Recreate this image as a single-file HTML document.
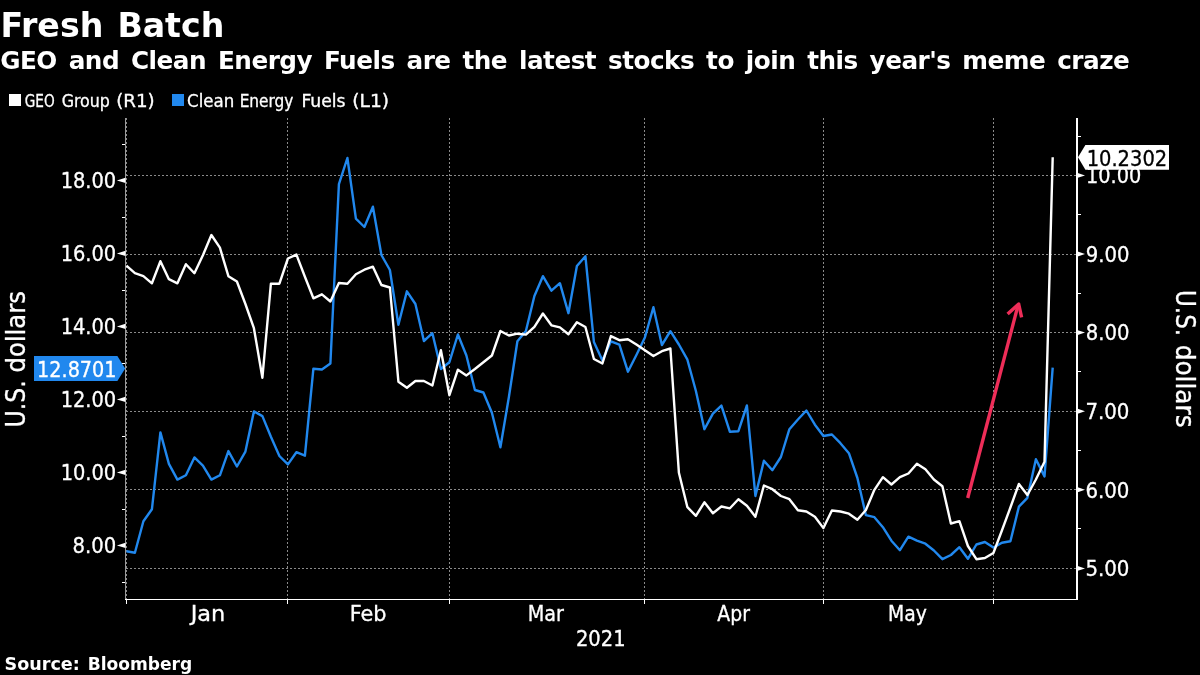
<!DOCTYPE html>
<html lang="en"><head><meta charset="utf-8"><title>Fresh Batch</title>
<style>html,body{margin:0;padding:0;background:#000;}body{width:1200px;height:675px;overflow:hidden;}svg{display:block;}text{font-family:"DejaVu Sans Condensed","DejaVu Sans","Liberation Sans",sans-serif;fill:#fff;stroke:#fff;stroke-width:0.3px;}.b{font-family:"DejaVu Sans","Liberation Sans",sans-serif;font-weight:bold;stroke:none;}.k{stroke:#000;}</style></head><body>
<svg width="1200" height="675" viewBox="0 0 1200 675">
<rect width="1200" height="675" fill="#000"/>
<text class="b" x="0.2" y="68.6" font-size="24.7" style="letter-spacing:-0.5px;word-spacing:3.8px">GEO and Clean Energy Fuels are the latest stocks to join this year&#39;s meme craze</text>
<rect x="9" y="94" width="12" height="12" fill="#fff"/>
<rect x="172" y="94" width="12" height="12" fill="#2188ee"/>
<g stroke="#8a8a8a" stroke-width="1" stroke-dasharray="2 2" fill="none" shape-rendering="crispEdges">
<line x1="126" y1="175.5" x2="1076" y2="175.5"/>
<line x1="126" y1="254.5" x2="1076" y2="254.5"/>
<line x1="126" y1="332.5" x2="1076" y2="332.5"/>
<line x1="126" y1="411.5" x2="1076" y2="411.5"/>
<line x1="126" y1="489.5" x2="1076" y2="489.5"/>
<line x1="126" y1="568.5" x2="1076" y2="568.5"/>
<line x1="126.5" y1="118" x2="126.5" y2="599"/>
<line x1="287.5" y1="118" x2="287.5" y2="599"/>
<line x1="449.5" y1="118" x2="449.5" y2="599"/>
<line x1="644.5" y1="118" x2="644.5" y2="599"/>
<line x1="823.5" y1="118" x2="823.5" y2="599"/>
<line x1="993.5" y1="118" x2="993.5" y2="599"/>
</g>
<g fill="none" shape-rendering="crispEdges">
<line x1="125.5" y1="118" x2="125.5" y2="600" stroke-width="1" stroke="#9a9a9a"/>
<line x1="1077" y1="118" x2="1077" y2="600" stroke-width="2" stroke="#fff"/>
<line x1="125" y1="599.5" x2="1078" y2="599.5" stroke-width="1" stroke="#fff"/>
<line x1="126.5" y1="599" x2="126.5" y2="604" stroke-width="1" stroke="#fff"/>
<line x1="287.5" y1="599" x2="287.5" y2="604" stroke-width="1" stroke="#fff"/>
<line x1="449.5" y1="599" x2="449.5" y2="604" stroke-width="1" stroke="#fff"/>
<line x1="644.5" y1="599" x2="644.5" y2="604" stroke-width="1" stroke="#fff"/>
<line x1="823.5" y1="599" x2="823.5" y2="604" stroke-width="1" stroke="#fff"/>
<line x1="993.5" y1="599" x2="993.5" y2="604" stroke-width="1" stroke="#fff"/>
<line x1="122" y1="144.5" x2="125" y2="144.5" stroke-width="1" stroke="#fff"/>
<line x1="122" y1="217.5" x2="125" y2="217.5" stroke-width="1" stroke="#fff"/>
<line x1="122" y1="290.5" x2="125" y2="290.5" stroke-width="1" stroke="#fff"/>
<line x1="122" y1="363.5" x2="125" y2="363.5" stroke-width="1" stroke="#fff"/>
<line x1="122" y1="436.5" x2="125" y2="436.5" stroke-width="1" stroke="#fff"/>
<line x1="122" y1="509.5" x2="125" y2="509.5" stroke-width="1" stroke="#fff"/>
<line x1="122" y1="582.5" x2="125" y2="582.5" stroke-width="1" stroke="#fff"/>
<line x1="1077" y1="136.5" x2="1081" y2="136.5" stroke-width="1" stroke="#fff"/>
<line x1="1077" y1="214.5" x2="1081" y2="214.5" stroke-width="1" stroke="#fff"/>
<line x1="1077" y1="293.5" x2="1081" y2="293.5" stroke-width="1" stroke="#fff"/>
<line x1="1077" y1="371.5" x2="1081" y2="371.5" stroke-width="1" stroke="#fff"/>
<line x1="1077" y1="450.5" x2="1081" y2="450.5" stroke-width="1" stroke="#fff"/>
<line x1="1077" y1="528.5" x2="1081" y2="528.5" stroke-width="1" stroke="#fff"/>
</g>
<path d="M125.5 180.4 l0 -2.7 l-8.6 2.7 l8.6 2.7z" fill="#fff"/>
<path d="M125.5 253.4 l0 -2.7 l-8.6 2.7 l8.6 2.7z" fill="#fff"/>
<path d="M125.5 326.4 l0 -2.7 l-8.6 2.7 l8.6 2.7z" fill="#fff"/>
<path d="M125.5 399.4 l0 -2.7 l-8.6 2.7 l8.6 2.7z" fill="#fff"/>
<path d="M125.5 472.4 l0 -2.7 l-8.6 2.7 l8.6 2.7z" fill="#fff"/>
<path d="M125.5 545.4 l0 -2.7 l-8.6 2.7 l8.6 2.7z" fill="#fff"/>
<path d="M1077 175.4 l0 -2.7 l8 2.7 l-8 2.7z" fill="#fff"/>
<path d="M1077 254.0 l0 -2.7 l8 2.7 l-8 2.7z" fill="#fff"/>
<path d="M1077 332.6 l0 -2.7 l8 2.7 l-8 2.7z" fill="#fff"/>
<path d="M1077 411.2 l0 -2.7 l8 2.7 l-8 2.7z" fill="#fff"/>
<path d="M1077 489.8 l0 -2.7 l8 2.7 l-8 2.7z" fill="#fff"/>
<path d="M1077 568.4 l0 -2.7 l8 2.7 l-8 2.7z" fill="#fff"/>
<g transform="translate(25.1 425.5) rotate(-90)"><text x="-2.05" y="0.0" font-size="26.6" textLength="47.21" lengthAdjust="spacingAndGlyphs">U.S.</text></g>
<g transform="translate(25.1 425.5) rotate(-90)"><text x="52.93" y="0.0" font-size="26.6" textLength="81.51" lengthAdjust="spacingAndGlyphs">dollars</text></g>
<g transform="translate(1175.5 291.9) rotate(90)"><text x="-2.00" y="0.0" font-size="26.6" textLength="46.22" lengthAdjust="spacingAndGlyphs">U.S.</text></g>
<g transform="translate(1175.5 291.9) rotate(90)"><text x="52.81" y="0.0" font-size="26.6" textLength="82.95" lengthAdjust="spacingAndGlyphs">dollars</text></g>
<path d="M126.4 551.3 L134.9 552.7 L143.4 521.3 L151.9 509.3 L160.4 432.4 L168.9 463.9 L177.4 479.6 L185.9 475.3 L194.4 457.4 L202.9 465.6 L211.4 479.6 L219.9 475.3 L228.4 451.1 L236.9 466.5 L245.4 451.6 L253.9 411.4 L262.4 416.1 L270.9 436.8 L279.4 456.0 L287.9 464.4 L296.4 452.2 L304.9 455.7 L313.4 368.7 L321.9 369.5 L330.4 363.5 L338.9 184.2 L347.4 158.0 L355.9 218.7 L364.4 227.0 L372.9 206.7 L381.4 255.0 L389.9 270.0 L398.4 324.8 L406.9 291.3 L415.4 304.0 L423.9 341.0 L432.4 333.2 L440.9 369.0 L449.4 362.2 L457.9 334.5 L466.4 355.5 L474.9 390.0 L483.4 392.5 L491.9 412.7 L500.4 447.3 L508.9 397.0 L517.4 341.2 L525.9 331.0 L534.4 296.0 L542.9 276.2 L551.4 290.7 L559.9 283.2 L568.4 313.2 L576.9 266.0 L585.4 256.2 L593.9 342.0 L602.4 360.5 L610.9 341.3 L619.4 344.7 L627.9 371.7 L636.4 355.0 L644.9 337.5 L653.4 307.2 L661.9 345.0 L670.4 331.2 L678.9 344.5 L687.4 359.7 L695.9 391.0 L704.4 429.2 L712.9 413.6 L721.4 405.6 L729.9 431.8 L738.4 431.2 L746.9 405.5 L755.4 496.0 L763.9 460.7 L772.4 470.2 L780.9 457.0 L789.4 429.2 L797.9 419.5 L806.4 410.5 L814.9 424.7 L823.4 436.0 L831.9 434.5 L840.4 443.2 L848.9 453.2 L857.4 478.0 L865.9 515.2 L874.4 517.2 L882.9 527.2 L891.4 540.7 L899.9 550.2 L908.4 536.7 L916.9 540.7 L925.4 543.7 L933.9 550.5 L942.4 559.2 L950.9 555.0 L959.4 547.2 L967.9 558.8 L976.4 544.5 L984.9 542.0 L993.4 547.6 L1001.9 542.7 L1010.4 541.3 L1018.9 506.7 L1027.4 497.8 L1035.9 459.2 L1044.5 476.4 L1052.7 367.6" fill="none" stroke="#2188ee" stroke-width="2.4" stroke-linejoin="round" stroke-linecap="butt"/>
<path d="M126.4 265.7 L134.9 273.2 L143.4 276.2 L151.9 283.3 L160.4 261.2 L168.9 279.2 L177.4 283.3 L185.9 264.2 L194.4 273.2 L202.9 255.2 L211.4 235.0 L219.9 247.7 L228.4 276.2 L236.9 281.5 L245.4 304.0 L253.9 328.2 L262.4 377.7 L270.9 283.7 L279.4 283.7 L287.9 258.5 L296.4 254.6 L304.9 276.7 L313.4 298.3 L321.9 294.3 L330.4 301.5 L338.9 283.0 L347.4 283.7 L355.9 274.2 L364.4 269.7 L372.9 266.7 L381.4 285.0 L389.9 287.5 L398.4 381.7 L406.9 387.7 L415.4 381.0 L423.9 381.0 L432.4 385.5 L440.9 350.2 L449.4 395.2 L457.9 369.7 L466.4 375.4 L474.9 369.0 L483.4 362.2 L491.9 355.5 L500.4 331.0 L508.9 335.5 L517.4 333.7 L525.9 334.6 L534.4 326.8 L542.9 313.5 L551.4 325.3 L559.9 327.4 L568.4 334.2 L576.9 322.2 L585.4 327.0 L593.9 359.0 L602.4 363.5 L610.9 336.1 L619.4 340.2 L627.9 339.2 L636.4 344.5 L644.9 350.3 L653.4 356.0 L661.9 351.2 L670.4 348.5 L678.9 472.8 L687.4 507.2 L695.9 515.8 L704.4 502.3 L712.9 513.2 L721.4 506.5 L729.9 508.3 L738.4 499.3 L746.9 505.7 L755.4 516.7 L763.9 485.5 L772.4 489.2 L780.9 496.0 L789.4 499.2 L797.9 510.2 L806.4 511.5 L814.9 516.7 L823.4 528.1 L831.9 510.5 L840.4 511.5 L848.9 513.7 L857.4 519.7 L865.9 510.0 L874.4 489.8 L882.9 477.2 L891.4 484.5 L899.9 477.2 L908.4 473.5 L916.9 463.7 L925.4 469.3 L933.9 479.5 L942.4 486.2 L950.9 523.5 L959.4 521.2 L967.9 546.0 L976.4 559.2 L984.9 558.0 L993.4 553.0 L1001.9 530.5 L1010.4 507.5 L1018.9 484.0 L1027.4 495.0 L1035.9 479.5 L1044.5 461.8 L1052.7 157.3" fill="none" stroke="#fff" stroke-width="2.4" stroke-linejoin="round" stroke-linecap="butt"/>
<g stroke="#ee2d58" stroke-width="3.4" fill="none" stroke-linecap="butt" stroke-linejoin="round"><path d="M967.7 498 L1018.2 304.6"/><path d="M1007.6 313.9 L1018.7 304 L1021.6 317.4"/></g>
<path d="M34 356 H117.4 L125.2 368.4 L117.4 381 H34 Z" fill="#2188ee"/>
<path d="M1078 157.3 L1085.4 145 H1169 V169.8 H1085.4 Z" fill="#fff"/>
<text class="b" x="0.40" y="36.8" font-size="33.6" textLength="102.97" lengthAdjust="spacingAndGlyphs">Fresh</text>
<text class="b" x="117.40" y="36.8" font-size="33.6" textLength="106.96" lengthAdjust="spacingAndGlyphs">Batch</text>
<text x="24.79" y="106.6" font-size="17.2" textLength="29.96" lengthAdjust="spacingAndGlyphs">GEO</text>
<text x="61.67" y="106.6" font-size="17.2" textLength="48.23" lengthAdjust="spacingAndGlyphs">Group</text>
<text x="116.23" y="106.6" font-size="17.2" textLength="38.48" lengthAdjust="spacingAndGlyphs">(R1)</text>
<text x="187.13" y="106.6" font-size="17.2" textLength="47.16" lengthAdjust="spacingAndGlyphs">Clean</text>
<text x="239.67" y="106.6" font-size="17.2" textLength="53.61" lengthAdjust="spacingAndGlyphs">Energy</text>
<text x="301.51" y="106.6" font-size="17.2" textLength="44.09" lengthAdjust="spacingAndGlyphs">Fuels</text>
<text x="352.31" y="106.6" font-size="17.2" textLength="36.74" lengthAdjust="spacingAndGlyphs">(L1)</text>
<text x="60.68" y="188.1" font-size="21.4" textLength="55.54" lengthAdjust="spacingAndGlyphs">18.00</text>
<text x="60.68" y="261.1" font-size="21.4" textLength="55.54" lengthAdjust="spacingAndGlyphs">16.00</text>
<text x="60.68" y="334.1" font-size="21.4" textLength="55.54" lengthAdjust="spacingAndGlyphs">14.00</text>
<text x="60.68" y="407.1" font-size="21.4" textLength="55.54" lengthAdjust="spacingAndGlyphs">12.00</text>
<text x="60.68" y="480.1" font-size="21.4" textLength="55.54" lengthAdjust="spacingAndGlyphs">10.00</text>
<text x="72.58" y="553.1" font-size="21.4" textLength="43.66" lengthAdjust="spacingAndGlyphs">8.00</text>
<text x="1085.99" y="183.2" font-size="21.4" textLength="55.23" lengthAdjust="spacingAndGlyphs">10.00</text>
<text x="1085.78" y="261.8" font-size="21.4" textLength="43.66" lengthAdjust="spacingAndGlyphs">9.00</text>
<text x="1085.78" y="340.4" font-size="21.4" textLength="43.66" lengthAdjust="spacingAndGlyphs">8.00</text>
<text x="1085.43" y="419.0" font-size="21.4" textLength="44.02" lengthAdjust="spacingAndGlyphs">7.00</text>
<text x="1085.43" y="497.6" font-size="21.4" textLength="44.02" lengthAdjust="spacingAndGlyphs">6.00</text>
<text x="1085.43" y="576.2" font-size="21.4" textLength="44.02" lengthAdjust="spacingAndGlyphs">5.00</text>
<text x="190.77" y="621.0" font-size="21.4" textLength="34.58" lengthAdjust="spacingAndGlyphs">Jan</text>
<text x="349.79" y="621.0" font-size="21.4" textLength="36.73" lengthAdjust="spacingAndGlyphs">Feb</text>
<text x="527.63" y="621.0" font-size="21.4" textLength="36.25" lengthAdjust="spacingAndGlyphs">Mar</text>
<text x="717.30" y="621.0" font-size="21.4" textLength="32.59" lengthAdjust="spacingAndGlyphs">Apr</text>
<text x="887.97" y="621.0" font-size="21.4" textLength="38.77" lengthAdjust="spacingAndGlyphs">May</text>
<text x="575.95" y="646.0" font-size="21.4" textLength="49.62" lengthAdjust="spacingAndGlyphs">2021</text>
<text x="37.10" y="377.0" font-size="21.4" textLength="79.45" lengthAdjust="spacingAndGlyphs">12.8701</text>
<text x="1086.67" y="165.7" font-size="21.4" textLength="80.53" lengthAdjust="spacingAndGlyphs" style="fill:#000;stroke:#000">10.2302</text>
<text class="b" x="4.50" y="669.6" font-size="17.4" textLength="75.31" lengthAdjust="spacingAndGlyphs">Source:</text>
<text class="b" x="87.67" y="669.6" font-size="17.4" textLength="104.62" lengthAdjust="spacingAndGlyphs">Bloomberg</text>
</svg></body></html>
